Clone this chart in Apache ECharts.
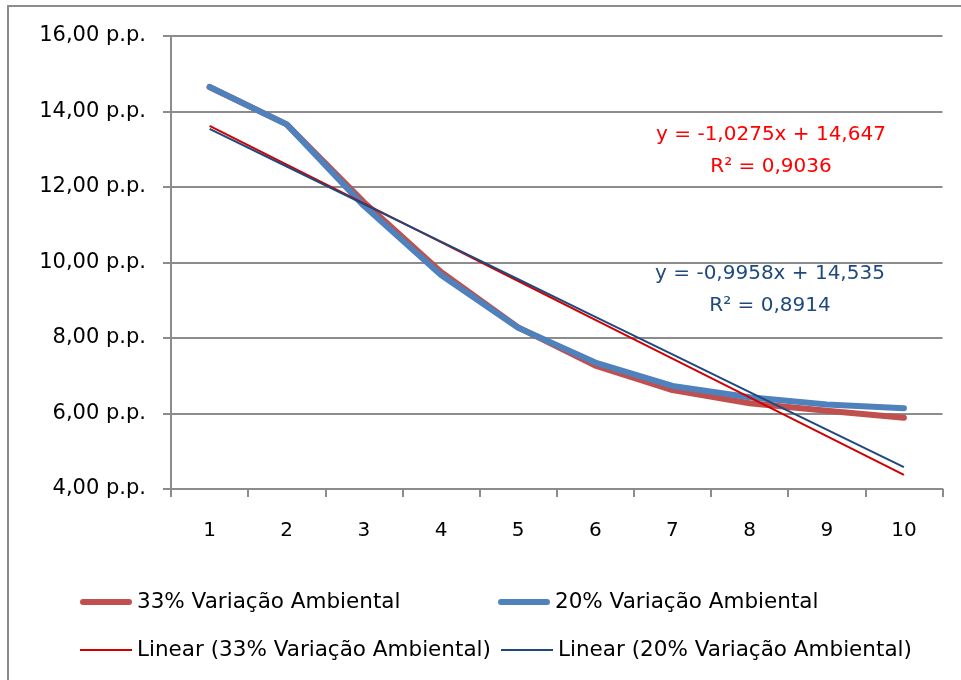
<!DOCTYPE html>
<html>
<head>
<meta charset="utf-8">
<script src="https://cdn.jsdelivr.net/npm/echarts@6/dist/echarts.min.js"></script>
<style>
  html, body { margin: 0; padding: 0; background: #ffffff; }
  #chart { width: 961px; height: 680px; }
</style>
</head>
<body>
<div id="chart"></div>
<script>
// Periods on the horizontal axis
const periods = ['1', '2', '3', '4', '5', '6', '7', '8', '9', '10'];

// Series values (p.p.)
const var33 = [14.65, 13.66, 11.6, 9.75, 8.28, 7.27, 6.62, 6.27, 6.07, 5.89];
const var20 = [14.65, 13.66, 11.5, 9.67, 8.27, 7.35, 6.73, 6.43, 6.24, 6.14];

// Fitted linear trends, as stated in the equation labels
const trend33 = { slope: -1.0275, intercept: 14.647, r2: '0,9036' };
const trend20 = { slope: -0.9958, intercept: 14.535, r2: '0,8914' };

// Value axis range
const yMin = 4, yMax = 16, yStep = 2;

const names = {
  s33: '33% Variação Ambiental',
  s20: '20% Variação Ambiental',
  t33: 'Linear (33% Variação Ambiental)',
  t20: 'Linear (20% Variação Ambiental)'
};

const fmtComma = (v, d) => v.toFixed(d).replace('.', ',');
const trendValues = t => periods.map((p, i) => +(t.slope * (i + 1) + t.intercept).toFixed(4));
const eqText = t => 'y = ' + (t.slope < 0 ? '-' : '') + fmtComma(Math.abs(t.slope), 4) +
  'x + ' + fmtComma(t.intercept, 3) + '\nR² = ' + t.r2;

const FONT = 'DejaVu Sans';
const GRID_COLOR = '#8c8c8c';

const chart = echarts.init(document.getElementById('chart'), null, { renderer: 'canvas' });

const thick = (color) => ({ width: 6, color: color, cap: 'round', join: 'round' });
const thin = (color) => ({ width: 2, color: color, cap: 'butt', join: 'round' });

// Legend swatches: a rounded bar for the data lines, a hairline for the trends
const ICON_THICK = 'path://M3,0 L49,0 A3,3 0 0 1 49,6 L3,6 A3,3 0 0 1 3,0 Z';
const ICON_THIN = 'path://M0,0 L52,0 L52,2 L0,2 Z';

// Each legend entry is placed on its own; the row height follows the text,
// so the entry's top sits about 14px above the row's centre line.
const legendItem = (name, left, centerY, isThick) => ({
  data: [{ name: name, icon: isThick ? ICON_THICK : ICON_THIN }],
  left: left,
  top: centerY - 14,
  itemWidth: 52,
  itemHeight: isThick ? 6 : 2,
  itemGap: 0,
  textStyle: { fontFamily: FONT, fontSize: 21.5, color: '#000' },
  selectedMode: false
});

chart.setOption({
  animation: false,
  backgroundColor: '#ffffff',
  grid: { left: 171, right: 18.5, top: 36, bottom: 191, containLabel: false },
  xAxis: {
    type: 'category',
    data: periods,
    boundaryGap: true,
    axisLine: { show: true, lineStyle: { color: GRID_COLOR, width: 2 } },
    axisTick: { show: true, length: 8, lineStyle: { color: GRID_COLOR, width: 2 } },
    axisLabel: { margin: 32, fontFamily: FONT, fontSize: 20, color: '#000' },
    splitLine: { show: false }
  },
  yAxis: {
    type: 'value',
    min: yMin, max: yMax, interval: yStep,
    axisLine: { show: true, lineStyle: { color: GRID_COLOR, width: 2 } },
    axisTick: { show: true, length: 8, lineStyle: { color: GRID_COLOR, width: 2 } },
    axisLabel: {
      margin: 25, fontFamily: FONT, fontSize: 21, color: '#000',
      formatter: v => fmtComma(v, 2) + ' p.p.'
    },
    splitLine: { show: true, lineStyle: { color: GRID_COLOR, width: 2 } }
  },
  legend: [
    legendItem(names.s33, 75, 600, true),
    legendItem(names.s20, 493, 600, true),
    legendItem(names.t33, 75, 648, false),
    legendItem(names.t20, 496, 648, false)
  ],
  series: [
    {
      name: names.s33, type: 'line', data: var33,
      showSymbol: false, symbol: 'none',
      lineStyle: thick('#c0504d'), itemStyle: { color: '#c0504d' }, z: 2
    },
    {
      name: names.s20, type: 'line', data: var20,
      showSymbol: false, symbol: 'none',
      lineStyle: thick('#4f81bd'), itemStyle: { color: '#4f81bd' }, z: 3
    },
    {
      name: names.t33, type: 'line', data: trendValues(trend33),
      showSymbol: false, symbol: 'none',
      lineStyle: thin('#d00000'), itemStyle: { color: '#d00000' }, z: 4
    },
    {
      name: names.t20, type: 'line', data: trendValues(trend20),
      showSymbol: false, symbol: 'none',
      lineStyle: thin('#1f497d'), itemStyle: { color: '#1f497d' }, z: 5
    }
  ],
  graphic: [
    {
      // chart frame
      type: 'rect',
      shape: { x: 8, y: 6, width: 1000, height: 1000 },
      style: { fill: 'none', stroke: GRID_COLOR, lineWidth: 2 },
      silent: true,
      z: -1
    },
    {
      type: 'text', x: 771, y: 151, z: 10,
      style: {
        text: eqText(trend33), fill: '#ff0000', fontFamily: FONT, fontSize: 20,
        align: 'center', verticalAlign: 'middle', lineHeight: 32
      }
    },
    {
      type: 'text', x: 770, y: 290, z: 10,
      style: {
        text: eqText(trend20), fill: '#1f497d', fontFamily: FONT, fontSize: 20,
        align: 'center', verticalAlign: 'middle', lineHeight: 32
      }
    }
  ]
});
</script>
</body>
</html>
